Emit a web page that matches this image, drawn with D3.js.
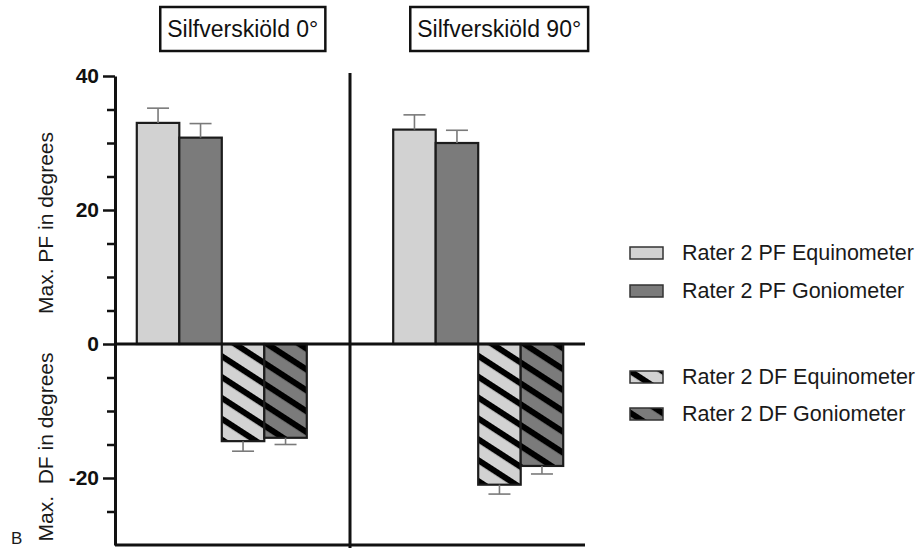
<!DOCTYPE html>
<html>
<head>
<meta charset="utf-8">
<script src="https://cdn.jsdelivr.net/npm/d3@7"></script>
<style>
  html, body { margin: 0; padding: 0; background: #fff; }
  svg { display: block; font-family: "Liberation Sans", Arial, Helvetica, sans-serif; }
</style>
</head>
<body>
<svg id="chart" width="922" height="548"></svg>
<script>
// ---------- data ----------
const groups = ["Silfverskiöld 0°", "Silfverskiöld 90°"];
const seriesNames = ["Rater 2 PF Equinometer", "Rater 2 PF Goniometer", "Rater 2 DF Equinometer", "Rater 2 DF Goniometer"];
const pfEquinometer = [33.0, 32.0];
const pfEquinometerErr = [2.2, 2.2];
const pfGoniometer = [30.8, 30.0];
const pfGoniometerErr = [2.1, 1.9];
const dfEquinometer = [-14.5, -21.0];
const dfEquinometerErr = [1.5, 1.4];
const dfGoniometer = [-14.0, -18.2];
const dfGoniometerErr = [1.0, 1.2];
const majorTicks = [-20, 0, 20, 40];
const minorTicks = [-25, -15, -10, -5, 5, 10, 15, 25, 30, 35];
const yLabelPF = "Max. PF in degrees";
const yLabelDF = "Max.  DF in degrees";
const panelLetter = "B";

// ---------- build table ----------
const valueArrays = [pfEquinometer, pfGoniometer, dfEquinometer, dfGoniometer];
const errArrays = [pfEquinometerErr, pfGoniometerErr, dfEquinometerErr, dfGoniometerErr];
const rows = [];
groups.forEach((g, gi) => {
  seriesNames.forEach((s, si) => {
    rows.push({ group: g, series: s, si, value: valueArrays[si][gi], err: errArrays[si][gi] });
  });
});

// ---------- style ----------
const lightFill = "#d2d2d2";
const darkFill = "#7b7b7b";
const ink = "#111";

const svg = d3.select("#chart");
const defs = svg.append("defs");
function makeHatch(id, bg) {
  const p = defs.append("pattern")
    .attr("id", id)
    .attr("patternUnits", "userSpaceOnUse")
    .attr("width", 20).attr("height", 17.5)
    .attr("patternTransform", "rotate(33)");
  p.append("rect").attr("width", 20).attr("height", 17.5).attr("fill", bg);
  p.append("rect").attr("y", 0).attr("width", 20).attr("height", 6).attr("fill", "#000");
}
makeHatch("hatchLight", lightFill);
makeHatch("hatchDark", darkFill);
const seriesFill = [lightFill, darkFill, "url(#hatchLight)", "url(#hatchDark)"];

// ---------- scales ----------
const y = d3.scaleLinear().domain([-30, 40]).range([545, 76]);
const x0 = d3.scaleBand().domain(groups).range([115, 585]).paddingInner(0.337).paddingOuter(0.085);
const x1 = d3.scaleBand().domain(seriesNames).range([0, x0.bandwidth()]).padding(0);

// ---------- bars ----------
const barG = svg.append("g");
barG.selectAll("rect.bar").data(rows).join("rect")
  .attr("class", "bar")
  .attr("x", d => x0(d.group) + x1(d.series))
  .attr("width", x1.bandwidth())
  .attr("y", d => y(Math.max(0, d.value)))
  .attr("height", d => Math.abs(y(d.value) - y(0)))
  .attr("fill", d => seriesFill[d.si])
  .attr("stroke", "#1c1c1c")
  .attr("stroke-width", 2.2);

// error bars (one-sided, outward)
const errG = svg.append("g").attr("stroke", "#7a7a7a").attr("stroke-width", 1.6).attr("fill", "none");
rows.forEach(d => {
  const cx = x0(d.group) + x1(d.series) + x1.bandwidth() / 2;
  const sign = d.value >= 0 ? 1 : -1;
  const y1 = y(d.value), y2 = y(d.value + sign * d.err);
  errG.append("line").attr("x1", cx).attr("x2", cx).attr("y1", y1).attr("y2", y2);
  errG.append("line").attr("x1", cx - 11).attr("x2", cx + 11).attr("y1", y2).attr("y2", y2);
});

// ---------- axes ----------
const axisG = svg.append("g").attr("transform", "translate(115,0)");
axisG.call(d3.axisLeft(y).tickValues(majorTicks).tickSize(12).tickSizeOuter(0).tickPadding(4).tickFormat(d3.format("d")));
axisG.select(".domain").attr("stroke", ink).attr("stroke-width", 3);
axisG.selectAll(".tick line").attr("stroke", ink).attr("stroke-width", 2.5);
axisG.selectAll(".tick text")
  .attr("fill", ink)
  .style("font-size", "21px")
  .style("font-weight", "bold")
  .style("font-family", "'Liberation Sans', Arial, sans-serif")
  .text(d => d < 0 ? "-" + Math.abs(d) : d);

const minorG = svg.append("g").attr("transform", "translate(115,0)");
minorG.call(d3.axisLeft(y).tickValues(minorTicks).tickSize(8).tickSizeOuter(0).tickFormat(""));
minorG.select(".domain").remove();
minorG.selectAll(".tick line").attr("stroke", ink).attr("stroke-width", 2.5);

// zero line & bottom line
const xr = x0.range();
svg.append("line").attr("x1", xr[0]).attr("x2", xr[1]).attr("y1", y(0)).attr("y2", y(0))
  .attr("stroke", ink).attr("stroke-width", 3);
svg.append("line").attr("x1", xr[0]).attr("x2", xr[1]).attr("y1", y(-30)).attr("y2", y(-30))
  .attr("stroke", ink).attr("stroke-width", 3);

// divider between panels
const divX = (x0(groups[0]) + x0.bandwidth() + x0(groups[1])) / 2;
svg.append("line").attr("x1", divX).attr("x2", divX).attr("y1", y(40) - 3).attr("y2", 548)
  .attr("stroke", ink).attr("stroke-width", 3);

// ---------- group titles in boxes ----------
groups.forEach(g => {
  const cx = x0(g) + x0.bandwidth() / 2 + 21;
  const tg = svg.append("g");
  const box = tg.append("rect");
  const t = tg.append("text")
    .attr("x", cx).attr("y", 29)
    .attr("text-anchor", "middle")
    .attr("dominant-baseline", "central")
    .attr("fill", ink)
    .style("font-size", "23px")
    .text(g);
  const bb = t.node().getBBox();
  box.attr("x", bb.x - 7).attr("y", 7)
    .attr("width", bb.width + 14).attr("height", 44)
    .attr("fill", "#fff").attr("stroke", ink).attr("stroke-width", 2.5);
});

// ---------- y labels ----------
function vLabel(text, cx, cy) {
  svg.append("text")
    .attr("transform", `translate(${cx},${cy}) rotate(-90)`)
    .attr("text-anchor", "middle")
    .attr("dominant-baseline", "central")
    .attr("fill", "#1a1a1a")
    .style("font-size", "21px")
    .style("white-space", "pre")
    .text(text);
}
vLabel(yLabelPF, 45, 223);
vLabel(yLabelDF, 45, 447);

svg.append("text").attr("x", 11).attr("y", 544).attr("fill", "#1a1a1a")
  .style("font-size", "17px").text(panelLetter);

// ---------- legend ----------
const legendY = [253, 291, 377, 414];
const legend = svg.append("g");
seriesNames.forEach((s, i) => {
  legend.append("rect")
    .attr("x", 630).attr("y", legendY[i] - 6)
    .attr("width", 33).attr("height", 12)
    .attr("fill", seriesFill[i])
    .attr("stroke", "#333").attr("stroke-width", 1.5);
  legend.append("text")
    .attr("x", 682).attr("y", legendY[i])
    .attr("dominant-baseline", "central")
    .attr("fill", "#1a1a1a")
    .style("font-size", "21.5px")
    .text(s);
});
</script>
</body>
</html>
